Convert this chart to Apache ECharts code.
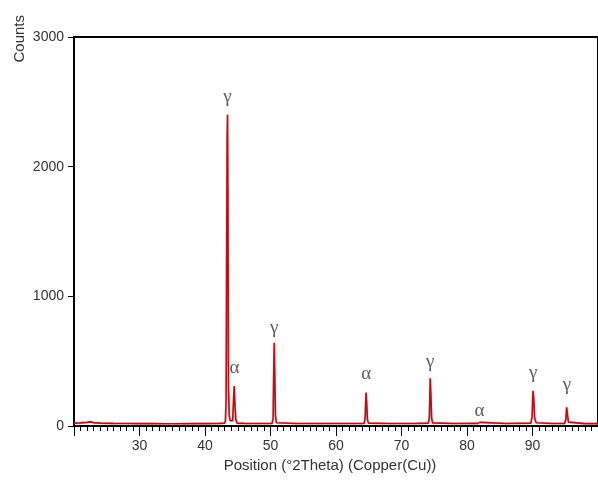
<!DOCTYPE html>
<html>
<head>
<meta charset="utf-8">
<script src="https://cdn.jsdelivr.net/npm/echarts@6/dist/echarts.min.js"></script>
<style>
  html, body { margin: 0; padding: 0; background: #fff; }
  #chart { width: 598px; height: 483px; }
</style>
</head>
<body>
<div id="chart"></div>
<script>
// diffractogram (°2θ, counts)
const twoTheta = [
  20.0, 21.0, 22.0, 22.5, 23.0, 24.0, 26.0, 28.0, 30.0, 32.0, 34.0, 36.0, 38.0, 40.0, 42.0,
  43.0, 43.12, 43.22, 43.3, 43.38, 43.44, 43.5, 43.58, 43.7, 43.85, 44.05,
  44.22, 44.36, 44.46, 44.56, 44.7, 44.9, 46.0, 48.0,
  50.25, 50.4, 50.5, 50.57, 50.65, 50.76, 50.9, 54.0, 58.0, 62.0,
  64.3, 64.45, 64.58, 64.68, 64.8, 64.95, 68.0, 72.0,
  74.1, 74.26, 74.38, 74.48, 74.6, 74.75, 78.0,
  81.6, 81.8, 81.9, 82.0, 82.2, 86.0,
  89.75, 89.93, 90.08, 90.2, 90.33, 90.55, 93.0,
  94.9, 95.08, 95.22, 95.34, 95.48, 95.65, 98.0, 100.0
];
const counts = [
  22, 24, 28, 32, 26, 22, 20, 19, 18, 18, 17, 17, 18, 18, 19,
  22, 40, 200, 190, 2200, 2400, 1800, 300, 80, 40, 25,
  40, 200, 308, 180, 50, 22, 20, 19,
  20, 60, 440, 642, 400, 80, 25, 19, 19, 19,
  20, 60, 257, 180, 50, 22, 19, 19,
  22, 70, 368, 250, 60, 24, 19,
  20, 28, 35, 28, 20, 19,
  22, 70, 272, 200, 60, 25, 19,
  20, 50, 144, 90, 30, 20, 18, 18
];

// phase labels: position (°2θ), height of the label (counts), text
const phaseX = [43.44, 44.5, 50.57, 64.6, 74.4, 81.9, 90.1, 95.25];
const phaseY = [2537, 447, 756, 401, 496, 116, 411, 316];
const phaseText = ['γ', 'α', 'γ', 'α', 'γ', 'α', 'γ', 'γ'];

const xTicks = { min: 20, max: 100, interval: 10 };
const yTicks = { min: 0, max: 3000, interval: 1000 };

const chart = echarts.init(document.getElementById('chart'));

const option = {
  animation: false,
  backgroundColor: '#fff',
  grid: {
    left: 74,
    right: -8,
    top: 37,
    bottom: 57,
    show: true,
    borderColor: '#000',
    borderWidth: 2,
    backgroundColor: 'transparent'
  },
  graphic: [{
    type: 'text',
    left: 12,
    top: 15,
    rotation: Math.PI / 2,
    style: {
      text: 'Counts',
      font: '15px "Liberation Sans", Arial, sans-serif',
      fill: '#333'
    }
  }],
  xAxis: {
    type: 'value',
    min: xTicks.min,
    max: xTicks.max,
    interval: xTicks.interval,
    name: 'Position (°2Theta) (Copper(Cu))',
    nameLocation: 'middle',
    nameGap: 32,
    nameTextStyle: {
      fontFamily: '"Liberation Sans", Arial, sans-serif',
      fontSize: 15,
      color: '#333',
      padding: [0, 12, 0, 0]
    },
    axisLine: { lineStyle: { color: '#000', width: 2 } },
    axisTick: { length: 10, lineStyle: { color: '#000', width: 1 } },
    minorTick: { show: true, splitNumber: 10, length: 5, lineStyle: { color: '#000', width: 1 } },
    splitLine: { show: false },
    axisLabel: {
      showMinLabel: false,
      showMaxLabel: false,
      margin: 13,
      fontFamily: '"Liberation Sans", Arial, sans-serif',
      fontSize: 14,
      color: '#333'
    }
  },
  yAxis: {
    type: 'value',
    min: yTicks.min,
    max: yTicks.max,
    interval: yTicks.interval,
    axisLine: { show: true, lineStyle: { color: '#000', width: 2 } },
    axisTick: { show: true, length: 6, lineStyle: { color: '#000', width: 1 } },
    splitLine: { show: false },
    axisLabel: {
      margin: 10,
      formatter: v => String(v),
      fontFamily: '"Liberation Sans", Arial, sans-serif',
      fontSize: 14,
      color: '#333'
    }
  },
  series: [
    {
      type: 'line',
      data: twoTheta.map((t, i) => [t, counts[i]]),
      showSymbol: false,
      lineStyle: {
        color: '#b0121b',
        width: 1.6,
        shadowColor: 'rgba(210, 110, 110, 0.6)',
        shadowBlur: 2
      },
      z: 3
    },
    {
      type: 'scatter',
      data: phaseX.map((t, i) => [t, phaseY[i], phaseText[i]]),
      symbolSize: 0,
      label: {
        show: true,
        position: 'inside',
        formatter: p => p.data[2],
        fontFamily: '"Liberation Serif", "DejaVu Serif", serif',
        fontSize: 19,
        color: '#333'
      },
      z: 4
    }
  ]
};

chart.setOption(option);
</script>
</body>
</html>
